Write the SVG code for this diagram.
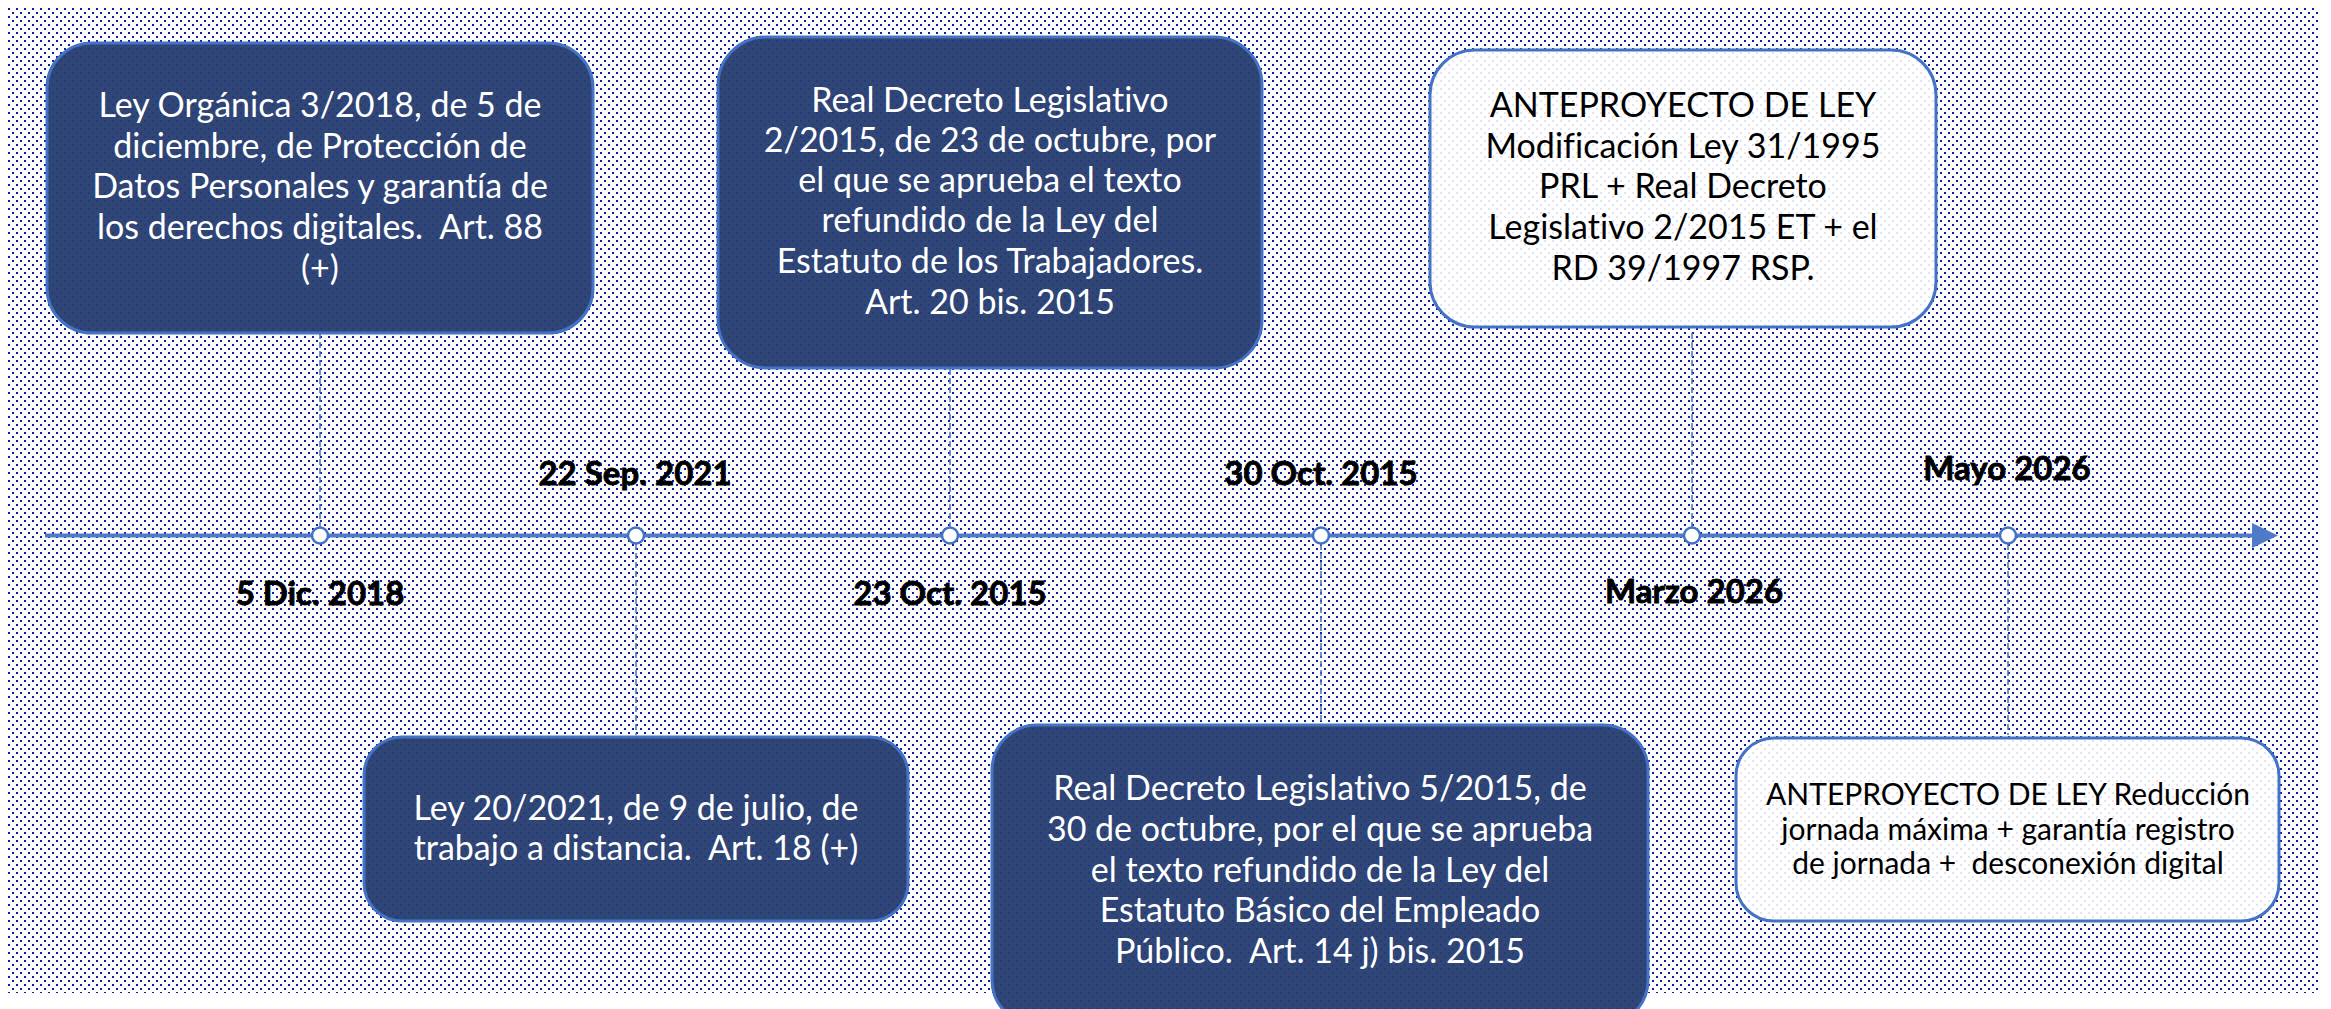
<svg xmlns="http://www.w3.org/2000/svg" width="2331" height="1009" viewBox="0 0 2331 1009">
  <defs>
    <pattern id="dots" patternUnits="userSpaceOnUse" x="0" y="0" width="8" height="8">
      <rect x="0" y="0" width="2" height="2" fill="#0e1e9e"/>
      <rect x="4" y="4" width="2" height="2" fill="#0e1e9e"/>
    </pattern>
    <style>
      text { font-variant-ligatures: none; }
      .dark { fill: #304674; }
      .light { fill: #ffffff; }
      .tex { fill: url(#dots); }
      .dark-tex { opacity: 0.35; }
      .light-tex { opacity: 0.12; }
      .border { fill: none; stroke: #4472c4; stroke-width: 3; }
      .wt { font-family: Lato, "Open Sans", sans-serif; font-size: 34px; fill: #ffffff; text-anchor: middle; }
      .bt { font-family: Lato, "Open Sans", sans-serif; font-size: 34px; fill: #000000; text-anchor: middle; }
      .bt-s { font-family: Lato, "Open Sans", sans-serif; font-size: 30px; fill: #000000; text-anchor: middle; }
      .date { font-family: Lato, "Open Sans", sans-serif; font-size: 33px; font-weight: bold; fill: #000000; stroke: #000000; stroke-width: 0.8; text-anchor: middle; }
      .conn { stroke: #4472c4; stroke-width: 1.5; stroke-dasharray: 6 3; fill: none; }
      .axis { stroke: #4f7ac7; stroke-width: 4; fill: none; }
      .tick { fill: #ffffff; stroke: #4472c4; stroke-width: 2.5; }
    </style>
  </defs>

  <rect x="0" y="0" width="2331" height="1009" fill="#ffffff"/>
  <rect x="8" y="7" width="2310" height="986" fill="url(#dots)"/>

  <g id="connectors">
    <line class="axis" x1="45" y1="535.5" x2="2256" y2="535.5"/>
    <polygon points="2252,523 2278,535.5 2252,548" fill="#4f7ac7"/>
    <line class="conn" x1="320" y1="333" x2="320" y2="527"/>
    <line class="conn" x1="636" y1="544" x2="636" y2="735"/>
    <line class="conn" x1="950" y1="333" x2="950" y2="527"/>
    <line class="conn" x1="1321" y1="544" x2="1321" y2="735"/>
    <line class="conn" x1="1692" y1="333" x2="1692" y2="527"/>
    <line class="conn" x1="2008" y1="544" x2="2008" y2="735"/>
    <circle class="tick" cx="320" cy="535.5" r="8"/>
    <circle class="tick" cx="636" cy="535.5" r="8"/>
    <circle class="tick" cx="950" cy="535.5" r="8"/>
    <circle class="tick" cx="1321" cy="535.5" r="8"/>
    <circle class="tick" cx="1692" cy="535.5" r="8"/>
    <circle class="tick" cx="2008" cy="535.5" r="8"/>
  </g>

  <g id="dates">
    <text class="date" x="320" y="605">5 Dic. 2018</text>
    <text class="date" x="635" y="485">22 Sep. 2021</text>
    <text class="date" x="950" y="605">23 Oct. 2015</text>
    <text class="date" x="1321" y="485">30 Oct. 2015</text>
    <text class="date" x="1694" y="603">Marzo 2026</text>
    <text class="date" x="2007" y="480">Mayo 2026</text>
  </g>

  <g id="node-lopd">
    <rect class="dark" x="47" y="43" width="546" height="290" rx="45"/>
    <rect class="tex dark-tex" x="47" y="43" width="546" height="290" rx="45"/>
    <rect class="border" x="47" y="43" width="546" height="290" rx="45"/>
    <text class="wt" x="320" y="117">Ley Orgánica 3/2018, de 5 de</text>
    <text class="wt" x="320" y="158">diciembre, de Protección de</text>
    <text class="wt" x="320" y="198">Datos Personales y garantía de</text>
    <text class="wt" x="320" y="239">los derechos digitales.&#160; Art. 88</text>
    <text class="wt" x="320" y="280">(+)</text>
  </g>

  <g id="node-et">
    <rect class="dark" x="718" y="37" width="544" height="331" rx="48"/>
    <rect class="tex dark-tex" x="718" y="37" width="544" height="331" rx="48"/>
    <rect class="border" x="718" y="37" width="544" height="331" rx="48"/>
    <text class="wt" x="990" y="112">Real Decreto Legislativo</text>
    <text class="wt" x="990" y="152">2/2015, de 23 de octubre, por</text>
    <text class="wt" x="990" y="192">el que se aprueba el texto</text>
    <text class="wt" x="990" y="232">refundido de la Ley del</text>
    <text class="wt" x="990" y="273">Estatuto de los Trabajadores.</text>
    <text class="wt" x="990" y="314">Art. 20 bis. 2015</text>
  </g>

  <g id="node-anteproyecto-prl">
    <rect class="light" x="1430" y="50" width="506" height="277" rx="45"/>
    <rect class="tex light-tex" x="1430" y="50" width="506" height="277" rx="45"/>
    <rect class="border" x="1430" y="50" width="506" height="277" rx="45"/>
    <text class="bt" x="1683" y="117">ANTEPROYECTO DE LEY</text>
    <text class="bt" x="1683" y="158">Modificación Ley 31/1995</text>
    <text class="bt" x="1683" y="198">PRL + Real Decreto</text>
    <text class="bt" x="1683" y="239">Legislativo 2/2015 ET + el</text>
    <text class="bt" x="1683" y="280">RD 39/1997 RSP.</text>
  </g>

  <g id="node-teletrabajo">
    <rect class="dark" x="364" y="737" width="544" height="184" rx="38"/>
    <rect class="tex dark-tex" x="364" y="737" width="544" height="184" rx="38"/>
    <rect class="border" x="364" y="737" width="544" height="184" rx="38"/>
    <text class="wt" x="636" y="820">Ley 20/2021, de 9 de julio, de</text>
    <text class="wt" x="636" y="860">trabajo a distancia.&#160; Art. 18 (+)</text>
  </g>

  <g id="node-ebep">
    <rect class="dark" x="992" y="725" width="656" height="300" rx="45"/>
    <rect class="tex dark-tex" x="992" y="725" width="656" height="300" rx="45"/>
    <rect class="border" x="992" y="725" width="656" height="300" rx="45"/>
    <text class="wt" x="1320" y="800">Real Decreto Legislativo 5/2015, de</text>
    <text class="wt" x="1320" y="841">30 de octubre, por el que se aprueba</text>
    <text class="wt" x="1320" y="882">el texto refundido de la Ley del</text>
    <text class="wt" x="1320" y="922">Estatuto Básico del Empleado</text>
    <text class="wt" x="1320" y="963">Público.&#160; Art. 14 j) bis. 2015</text>
  </g>

  <g id="node-anteproyecto-jornada">
    <rect class="light" x="1736" y="738" width="543" height="183" rx="38"/>
    <rect class="tex light-tex" x="1736" y="738" width="543" height="183" rx="38"/>
    <rect class="border" x="1736" y="738" width="543" height="183" rx="38"/>
    <text class="bt-s" x="2008" y="805">ANTEPROYECTO DE LEY Reducción</text>
    <text class="bt-s" x="2008" y="840">jornada máxima + garantía registro</text>
    <text class="bt-s" x="2008" y="874">de jornada +&#160; desconexión digital</text>
  </g>
</svg>
